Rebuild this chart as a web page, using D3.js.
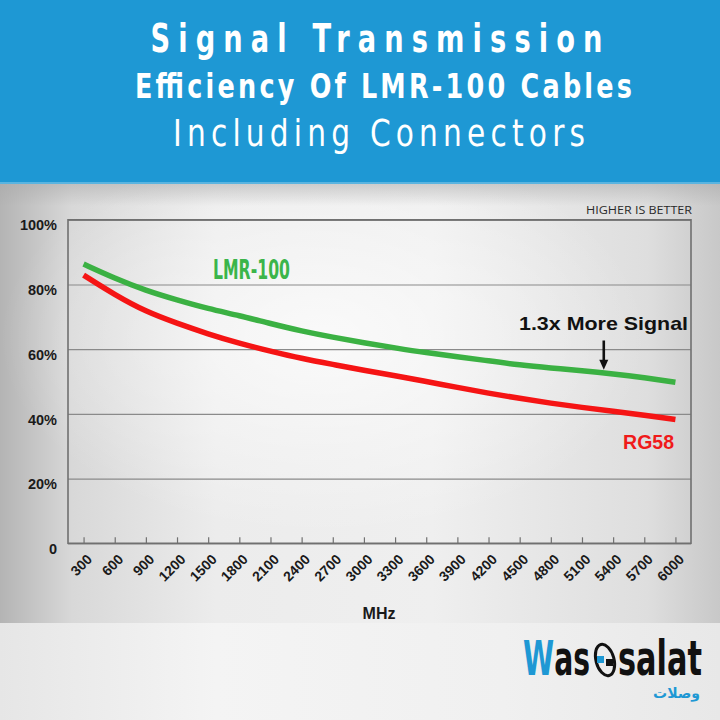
<!DOCTYPE html>
<html>
<head>
<meta charset="utf-8">
<script src="https://cdn.jsdelivr.net/npm/d3@7"></script>
<style>
  html, body { margin: 0; padding: 0; background: #e8e8e8; }
  svg { display: block; }
</style>
</head>
<body>
<svg id="chart" width="720" height="720"></svg>
<script>
// ---- data ----
const frequencies = [300, 600, 900, 1200, 1500, 1800, 2100, 2400, 2700, 3000,
                     3300, 3600, 3900, 4200, 4500, 4800, 5100, 5400, 5700, 6000];
const lmr100 = [86.3, 81.9, 78.1, 75.2, 72.5, 70.4, 67.9, 65.6, 63.7, 62.0,
                60.4, 58.9, 57.7, 56.4, 55.1, 54.2, 53.4, 52.4, 51.2, 49.8];
const rg58   = [82.9, 76.8, 71.6, 68.0, 64.7, 61.8, 59.4, 57.1, 55.3, 53.5,
                51.8, 50.0, 48.2, 46.4, 44.8, 43.3, 42.0, 40.8, 39.6, 38.3];
const yTicks = [0, 20, 40, 60, 80, 100];
const yTickLabels = ["0", "20%", "40%", "60%", "80%", "100%"];
const titleLines = ["Signal Transmission", "Efficiency Of LMR-100 Cables", "Including Connectors"];
const xAxisTitle = "MHz";
const seriesNames = ["LMR-100", "RG58"];
const noteText = "HIGHER IS BETTER";
const calloutText = "1.3x More Signal";
const calloutFreq = 5310;

const svg = d3.select("#chart");
const defs = svg.append("defs");

// background gradients
const bg = defs.append("linearGradient").attr("id", "bgH").attr("x1", 0).attr("x2", 1).attr("y1", 0).attr("y2", 0);
[[0, "#b4b4b4"], [0.1, "#d8d8d8"], [0.3, "#ececec"], [0.6, "#efefef"], [0.9, "#dedede"], [1, "#c8c8c8"]]
  .forEach(([o, c]) => bg.append("stop").attr("offset", o).attr("stop-color", c));
const rad = defs.append("radialGradient").attr("id", "bgR").attr("cx", 0.45).attr("cy", 0.35).attr("r", 0.45);
rad.append("stop").attr("offset", 0).attr("stop-color", "#ffffff").attr("stop-opacity", 0.7);
rad.append("stop").attr("offset", 1).attr("stop-color", "#ffffff").attr("stop-opacity", 0);
const bot = defs.append("linearGradient").attr("id", "bgB").attr("x1", 0).attr("x2", 1).attr("y1", 0).attr("y2", 0);
[[0, "#e6e6e6"], [0.3, "#f4f4f4"], [0.7, "#f0f0f0"], [1, "#e8e8e8"]]
  .forEach(([o, c]) => bot.append("stop").attr("offset", o).attr("stop-color", c));
const topShade = defs.append("linearGradient").attr("id", "bgT").attr("x1", 0).attr("x2", 0).attr("y1", 0).attr("y2", 1);
topShade.append("stop").attr("offset", 0).attr("stop-color", "#a8a8a8").attr("stop-opacity", 0.5);
topShade.append("stop").attr("offset", 1).attr("stop-color", "#a8a8a8").attr("stop-opacity", 0);

svg.append("rect").attr("x", 0).attr("y", 184).attr("width", 720).attr("height", 439).attr("fill", "url(#bgH)");
svg.append("rect").attr("x", 0).attr("y", 184).attr("width", 720).attr("height", 439).attr("fill", "url(#bgR)");
svg.append("rect").attr("x", 0).attr("y", 184).attr("width", 720).attr("height", 22).attr("fill", "url(#bgT)");
svg.append("rect").attr("x", 0).attr("y", 623).attr("width", 720).attr("height", 97).attr("fill", "url(#bgB)");

// header
svg.append("rect").attr("x", 0).attr("y", 0).attr("width", 720).attr("height", 184).attr("fill", "#1e98d4");
svg.append("rect").attr("x", 0).attr("y", 182).attr("width", 720).attr("height", 2).attr("fill", "#5ab4e0");

const sansFam = "'DejaVu Sans', sans-serif";

// condensed text: narrow glyphs via horizontal scale, spacing stretched to the target width
function condensedText(parent, opts) {
  const g = parent.append("g");
  const t = g.append("text")
    .attr("x", 0).attr("y", 0)
    .attr("font-family", opts.family || sansFam)
    .attr("font-size", opts.size).attr("font-weight", opts.weight || "bold")
    .attr("fill", opts.fill || "#fff")
    .attr("text-anchor", "start");
  (opts.parts || [[opts.text, opts.fill || "#fff"]]).forEach(([s, c]) => t.append("tspan").attr("fill", c).text(s));
  const natural = t.node().getComputedTextLength();
  const squeeze = opts.fit ? opts.width / natural : opts.squeeze;
  g.attr("transform", `translate(${opts.x},${opts.y}) scale(${squeeze},1)`);
  if (!opts.fit) {
    const targetLocal = opts.width / squeeze;
    t.attr("textLength", targetLocal)
     .attr("lengthAdjust", natural < targetLocal ? "spacing" : "spacingAndGlyphs");
  }
  return t;
}

const titleSpecs = [
  { x: 376.5, y: 52, size: 39, weight: "bold", len: 452, squeeze: 0.7 },
  { x: 383.5, y: 97.5, size: 34, weight: "bold", len: 497, squeeze: 0.75 },
  { x: 379, y: 146, size: 38, weight: "normal", len: 412, squeeze: 0.78 }
];
titleLines.forEach((t, i) => {
  const s = titleSpecs[i];
  condensedText(svg, { x: s.x - s.len / 2, y: s.y, size: s.size, weight: s.weight, width: s.len,
    squeeze: s.squeeze, text: t, fill: "#ffffff" });
});

// ---- chart ----
const plotLeft = 68, plotRight = 691, plotTop = 219.8, plotBottom = 543.3;
const x = d3.scaleLinear().domain([150, 6150]).range([plotLeft, plotRight]);
const y = d3.scaleLinear().domain([0, 100]).range([plotBottom, plotTop]);

const arial = "'Liberation Sans', Arial, sans-serif";

// grid lines + y labels through axisLeft
const yAxis = d3.axisLeft(y).tickValues(yTicks).tickSize(-(plotRight - plotLeft)).tickPadding(10)
  .tickFormat((d, i) => yTickLabels[i]);
const gy = svg.append("g").attr("transform", `translate(${plotLeft},0)`).call(yAxis);
gy.select(".domain").remove();
gy.selectAll(".tick line").attr("stroke", "#8a8a8a").attr("stroke-width", 1.2);
gy.selectAll(".tick text")
  .attr("font-family", arial).attr("font-weight", "bold").attr("font-size", 14.5)
  .attr("fill", "#1a1a1a").attr("dy", "0.7em").attr("x", -11);

// frame
svg.append("rect").attr("x", plotLeft).attr("y", plotTop).attr("width", plotRight - plotLeft).attr("height", plotBottom - plotTop)
  .attr("fill", "none").attr("stroke", "#707070").attr("stroke-width", 1.6);

// x axis ticks + labels
const xAxis = d3.axisBottom(x).tickValues(frequencies).tickSize(-6).tickPadding(0).tickFormat(d3.format("d"));
const gx = svg.append("g").attr("transform", `translate(0,${plotBottom})`).call(xAxis);
gx.select(".domain").remove();
gx.selectAll(".tick line").attr("stroke", "#707070").attr("stroke-width", 1.2);
gx.selectAll(".tick text")
  .attr("font-family", arial).attr("font-weight", "bold").attr("font-size", 14)
  .attr("fill", "#1a1a1a").attr("text-anchor", "end")
  .attr("x", null).attr("y", null).attr("dy", null)
  .attr("transform", "translate(9,17) rotate(-45)");

svg.append("text").attr("x", 379).attr("y", 619).attr("text-anchor", "middle")
  .attr("font-family", arial).attr("font-weight", "bold").attr("font-size", 16).attr("fill", "#1a1a1a")
  .text(xAxisTitle);

svg.append("text").attr("x", 692).attr("y", 214).attr("text-anchor", "end")
  .attr("font-family", "'Open Sans', sans-serif").attr("font-size", 11.5).attr("fill", "#2a2a2a")
  .attr("textLength", 106).attr("lengthAdjust", "spacingAndGlyphs")
  .text(noteText);

// lines
const line = d3.line().x((d, i) => x(frequencies[i])).y(d => y(d)).curve(d3.curveBasis);
svg.append("path").datum(rg58).attr("d", line).attr("fill", "none")
  .attr("stroke", "#f51414").attr("stroke-width", 5.5).attr("stroke-linecap", "butt");
svg.append("path").datum(lmr100).attr("d", line).attr("fill", "none")
  .attr("stroke", "#3bb143").attr("stroke-width", 5.5).attr("stroke-linecap", "butt");

// series labels
condensedText(svg, { x: 213, y: 279.3, size: 27, weight: "bold", width: 77, fit: true,
  text: seriesNames[0], fill: "#3bb54a" });
svg.append("text").attr("x", 674).attr("y", 449).attr("text-anchor", "end")
  .attr("font-family", arial).attr("font-weight", "bold").attr("font-size", 19.5).attr("fill", "#f01a1a")
  .text(seriesNames[1]);

// callout
svg.append("text").attr("x", 688).attr("y", 329.5).attr("text-anchor", "end")
  .attr("font-family", arial).attr("font-weight", "bold").attr("font-size", 19).attr("fill", "#111")
  .attr("textLength", 169).attr("lengthAdjust", "spacingAndGlyphs")
  .text(calloutText);
const ax = x(calloutFreq);
const interp = d3.scaleLinear().domain(frequencies).range(lmr100);
const tipY = y(interp(calloutFreq)) - 3;
svg.append("line").attr("x1", ax).attr("x2", ax).attr("y1", 340.5).attr("y2", tipY - 8)
  .attr("stroke", "#111").attr("stroke-width", 2.6);
svg.append("path").attr("d", `M${ax - 4.5},${tipY - 10} L${ax + 4.5},${tipY - 10} L${ax},${tipY} Z`).attr("fill", "#111");

// logo
const logo = svg.append("g");
condensedText(logo, { x: 523, y: 675, size: 48, weight: "bold", width: 66, fit: true,
  parts: [["W", "#1e98d4"], ["as", "#111111"]] });
condensedText(logo, { x: 618, y: 675, size: 48, weight: "bold", width: 84, fit: true,
  text: "salat", fill: "#111111" });
logo.append("ellipse").attr("cx", 605).attr("cy", 660).attr("rx", 9).attr("ry", 16)
  .attr("fill", "none").attr("stroke", "#111").attr("stroke-width", 3).attr("transform", "rotate(-15,605,660)");
logo.append("rect").attr("x", 597).attr("y", 656).attr("width", 7).attr("height", 7).attr("fill", "#1e98d4");
logo.append("rect").attr("x", 606).attr("y", 659).attr("width", 7).attr("height", 7).attr("fill", "#111");
logo.append("text").attr("x", 700).attr("y", 698).attr("text-anchor", "end")
  .attr("font-family", "'Noto Sans', 'DejaVu Sans', sans-serif").attr("font-weight", "bold").attr("font-size", 14)
  .attr("fill", "#1e98d4")
  .text("وصلات");
</script>
</body>
</html>
